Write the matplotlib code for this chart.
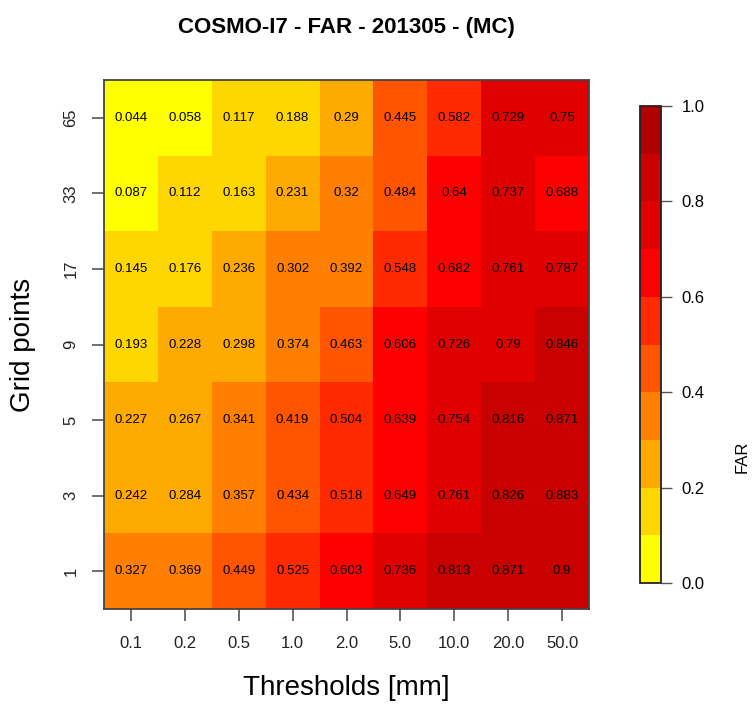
import numpy as np
import matplotlib
matplotlib.use("Agg")
import matplotlib.pyplot as plt
from matplotlib.colors import ListedColormap, BoundaryNorm

plt.rcParams['font.family'] = ['Liberation Sans', 'DejaVu Sans']

thresholds = ["0.1", "0.2", "0.5", "1.0", "2.0", "5.0", "10.0", "20.0", "50.0"]
grid_points = ["1", "3", "5", "9", "17", "33", "65"]

far_1 = [0.327, 0.369, 0.449, 0.525, 0.603, 0.736, 0.813, 0.871, 0.9]
far_3 = [0.242, 0.284, 0.357, 0.434, 0.518, 0.649, 0.761, 0.826, 0.883]
far_5 = [0.227, 0.267, 0.341, 0.419, 0.504, 0.639, 0.754, 0.816, 0.871]
far_9 = [0.193, 0.228, 0.298, 0.374, 0.463, 0.606, 0.726, 0.79, 0.846]
far_17 = [0.145, 0.176, 0.236, 0.302, 0.392, 0.548, 0.682, 0.761, 0.787]
far_33 = [0.087, 0.112, 0.163, 0.231, 0.32, 0.484, 0.64, 0.737, 0.688]
far_65 = [0.044, 0.058, 0.117, 0.188, 0.29, 0.445, 0.582, 0.729, 0.75]

data = np.array([far_1, far_3, far_5, far_9, far_17, far_33, far_65])

bin_colors = ["#FFFF00", "#FFD700", "#FFAA00", "#FF8000", "#FF5500",
              "#FF2A00", "#FF0000", "#E00000", "#C80000", "#B00000"]
# right-closed intervals (a, b], as in R's cut/image breaks
bounds = np.linspace(0, 1, 11) + 1e-9
bounds[0] = 0.0
bounds[-1] = 1.0
cmap = ListedColormap(bin_colors)
norm = BoundaryNorm(bounds, cmap.N)

W, H = 752, 704
fig = plt.figure(figsize=(W / 100, H / 100), dpi=100)

ax = fig.add_axes([104 / W, 1 - 609 / H, 485 / W, 529 / H])
ncol, nrow = len(thresholds), len(grid_points)
mesh = ax.pcolormesh(np.arange(ncol + 1), np.arange(nrow + 1), data,
                     cmap=cmap, norm=norm)
for i in range(nrow):
    for j in range(ncol):
        ax.text(j + 0.5, i + 0.5, f"{data[i, j]:g}", ha='center', va='center',
                fontsize=9.5, color='black')

ax.set_xlim(0, ncol)
ax.set_ylim(0, nrow)
ax.set_xticks(np.arange(ncol) + 0.5)
ax.set_xticklabels(thresholds, fontsize=12, color='#222222')
ax.set_yticks(np.arange(nrow) + 0.5)
ax.set_yticklabels(grid_points, fontsize=12, rotation=90, va='center',
                   color='#222222')
ax.tick_params(axis='x', length=8.5, width=1.2, color='#555555', pad=11)
ax.tick_params(axis='y', length=8.5, width=1.2, color='#555555', pad=10)
for s in ax.spines.values():
    s.set_color('#444444')
    s.set_linewidth(1.3)

cax = fig.add_axes([640 / W, 1 - 583 / H, 21 / W, 477 / H])
cb = fig.colorbar(mesh, cax=cax, ticks=[0, 0.2, 0.4, 0.6, 0.8, 1.0],
                  format='%.1f')
cax.minorticks_off()
cax.yaxis.set_minor_locator(matplotlib.ticker.NullLocator())
cb.outline.set_edgecolor('#222222')
cb.outline.set_linewidth(1.3)
cax.tick_params(which='major', length=8, width=1.0, color='#555555', pad=7,
                labelsize=12)

fig.text(346.5 / W, 1 - 33 / H, "COSMO-I7 - FAR - 201305 - (MC)",
         ha='center', va='baseline', fontsize=16, fontweight='bold')
fig.text(346.5 / W, 1 - 695 / H, "Thresholds [mm]", ha='center',
         va='baseline', fontsize=20)
fig.text(23 / W, 1 - 345 / H, "Grid points", ha='center', va='center',
         rotation=90, fontsize=20)
fig.text(742 / W, 1 - 457 / H, "FAR", ha='center', va='center',
         rotation=90, fontsize=12)

fig.savefig("out.png", dpi=100)
